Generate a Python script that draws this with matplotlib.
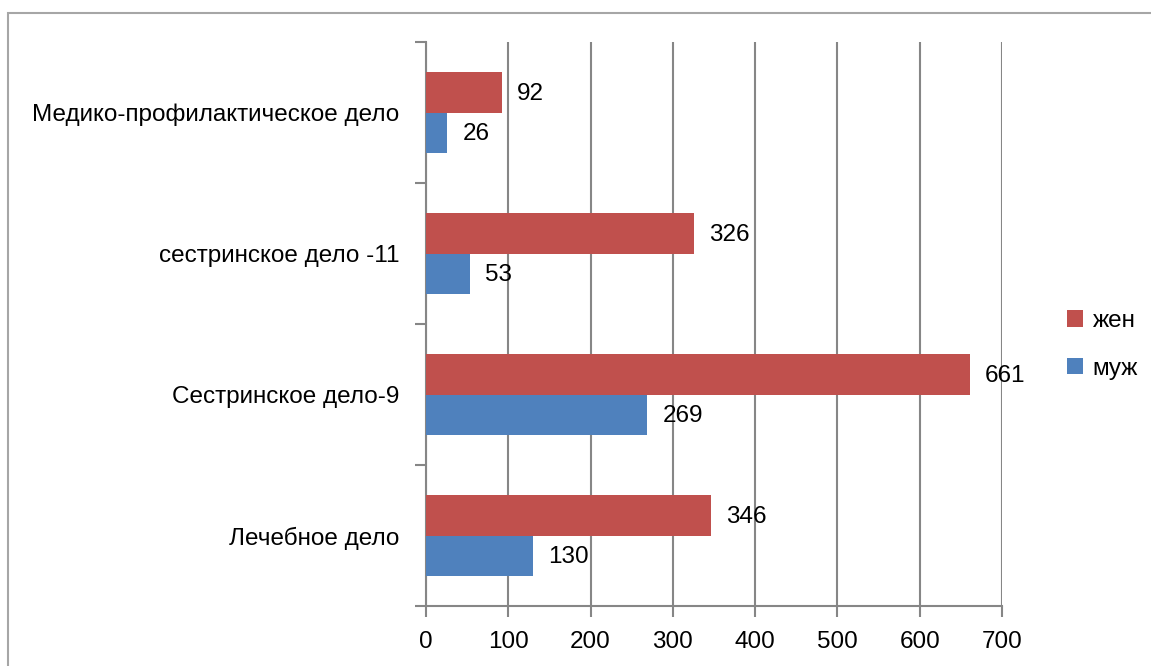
import numpy as np
import matplotlib
matplotlib.use('agg')
import matplotlib.pyplot as plt
from matplotlib.patches import Rectangle

plt.rcParams['font.family'] = ['Liberation Sans', 'DejaVu Sans']

categories = ['Лечебное дело', 'Сестринское дело-9', 'сестринское дело -11',
              'Медико-профилактическое дело']
zhen = [346, 661, 326, 92]
muzh = [130, 269, 53, 26]
series_names = ['жен', 'муж']
xticks = [0, 100, 200, 300, 400, 500, 600, 700]

red = '#C0504D'
blue = '#4F81BD'
grid_c = '#868686'
fs = 17.5

fig = plt.figure(figsize=(11.51, 6.66), dpi=100)
fig.patches.append(Rectangle((8 / 1151, -0.1), 1.2, 1 - 13 / 666 + 0.1,
                             transform=fig.transFigure, fill=False,
                             edgecolor='#a6a6a6', linewidth=1.5))
ax = fig.add_axes([426 / 1151, 1 - 606 / 666, 576 / 1151, 564 / 666])

y = np.arange(len(categories))
h = 0.285
b1 = ax.barh(y + h / 2, zhen, height=h, color=red, label=series_names[0], zorder=3)
b2 = ax.barh(y - h / 2, muzh, height=h, color=blue, label=series_names[1], zorder=3)

for bars, vals in ((b1, zhen), (b2, muzh)):
    for r, v in zip(bars, vals):
        ax.annotate(str(v), (v, r.get_y() + r.get_height() / 2),
                    xytext=(11, -1), textcoords='offset points',
                    va='center', ha='left', fontsize=fs, zorder=4)

ax.set_xlim(0, 700)
ax.set_ylim(-0.5, len(categories) - 0.5)
ax.set_xticks(xticks)
ax.set_xticklabels([str(t) for t in xticks], fontsize=fs)
ax.set_yticks(y)
ax.set_yticklabels(categories, fontsize=fs)
ax.set_yticks(np.arange(-0.5, len(categories)), minor=True)
ax.tick_params(axis='y', which='major', length=0, pad=19)
ax.tick_params(axis='y', which='minor', length=8, width=1.5, color=grid_c)
ax.tick_params(axis='x', length=8, width=1.5, color=grid_c, pad=10)
ax.grid(axis='x', color=grid_c, linewidth=1.5, zorder=0)
for s in ('top', 'right'):
    ax.spines[s].set_visible(False)
for s in ('left', 'bottom'):
    ax.spines[s].set_color(grid_c)
    ax.spines[s].set_linewidth(1.5)

leg = ax.legend(loc='center left', bbox_to_anchor=(1.075, 0.463), frameon=False,
                fontsize=fs, handlelength=0.65, handleheight=0.65,
                handletextpad=0.4, labelspacing=1.05)

fig.savefig('out.png', dpi=100)
